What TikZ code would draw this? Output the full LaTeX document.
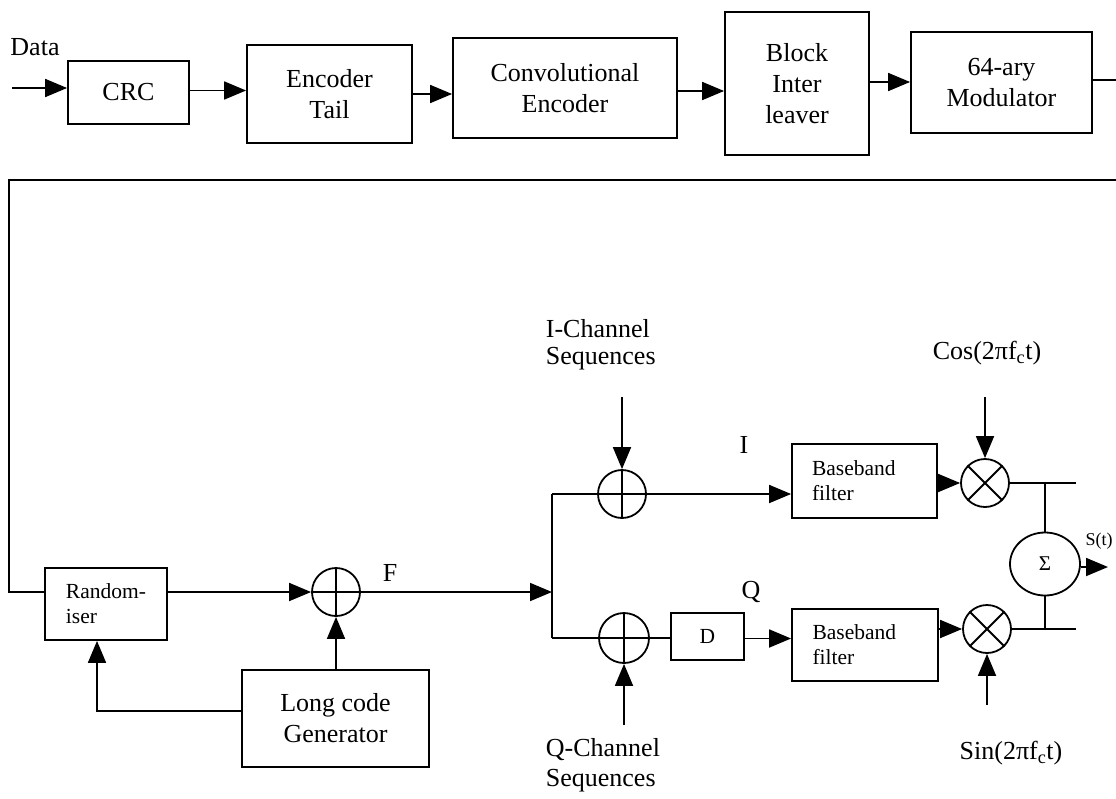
\documentclass[tikz,border=0pt]{standalone}
\usepackage{fontspec}
\setmainfont{Liberation Serif}
\usetikzlibrary{arrows.meta,shapes.geometric}
\begin{document}
\begin{tikzpicture}[x=1pt,y=-1pt,
  line width=1.8pt,
  big/.style={font=\fontsize{26}{31}\selectfont},
  small/.style={font=\fontsize{21.5}{25}\selectfont},
  blk/.style={draw, rectangle, inner sep=0pt, align=center, big},
  sblk/.style={draw, rectangle, inner sep=0pt, align=left, small},
  bbblk/.style={draw, rectangle, inner sep=0pt, align=left, small, text width=105pt},
  xorc/.style={draw, circle, minimum size=48pt, inner sep=0pt},
  arr/.style={-{Triangle[length=22pt,width=18pt]}},
  lbl/.style={inner sep=0pt, big},
]
\useasboundingbox (0,0) rectangle (1116,798);

% ---- top chain ----
\node[blk, minimum width=121pt, minimum height=63pt] (crc) at (128.5,92.5) {CRC};
\node[blk, minimum width=165pt, minimum height=98pt] (et) at (329.5,94) {Encoder\\Tail};
\node[blk, minimum width=224pt, minimum height=100pt] (conv) at (565,88) {Convolutional\\Encoder};
\node[blk, minimum width=144pt, minimum height=143pt] (bil) at (797,83.5) {Block\\Inter\\leaver};
\node[blk, minimum width=181pt, minimum height=101pt] (mod) at (1001.5,82.5) {64-ary\\Modulator};

\node[lbl] (data) at (35,47) {Data};
\coordinate (din) at (12,88);
\coordinate (mout) at (1116,80);
\coordinate (wr) at (1116,180);
\coordinate (wl) at (9,180);

\draw[arr] (din) -- (din -| crc.west);
\draw[arr] ([yshift=2pt]crc.east) -- ([yshift=2pt]crc.east -| et.west);
\draw[arr] (et.east) -- (et.east -| conv.west);
\draw[arr] ([yshift=-3pt]conv.east) -- ([yshift=-3pt]conv.east -| bil.west);
\draw[arr] ([yshift=1.5pt]bil.east) -- ([yshift=1.5pt]bil.east -| mod.west);
\draw (mod.east |- mout) -- (mout);

% ---- lower left ----
\node[sblk, minimum width=122pt, minimum height=72pt] (rand) at (106,604) {Random-\\iser};
\node[xorc] (x1) at (336,592) {};
\node[blk, minimum width=187pt, minimum height=97pt] (lc) at (335.5,718.5) {Long code\\Generator};
\node[lbl] (flab) at (390,573) {F};

\draw (wr) -- (wl) |- (rand.west |- x1);
\draw[arr] (rand.east |- x1) -- (x1.west);
\draw[arr] (x1 |- lc.north) -- (x1.south);
\coordinate (fb) at (97,711);
\draw[arr] (lc.west |- fb) -- (fb) -- (fb |- rand.south);
\draw (x1.north) -- (x1.south) (x1.west) -- (x1.east);

% ---- I / Q split ----
\coordinate (jf) at (552,592);
\coordinate (ji) at (552,494);
\coordinate (jq) at (552,638);
\draw[arr] (x1.east) -- (jf);
\draw (ji) -- (jq);

\node[xorc] (xi) at (622,494) {};
\node[xorc, minimum size=50pt] (xq) at (624,638) {};
\draw (xi.north) -- (xi.south) (xi.west) -- (xi.east);
\draw (xq.north) -- (xq.south) (xq.west) -- (xq.east);

\node[lbl, align=left, anchor=west, font=\fontsize{26}{27}\selectfont] (ich) at (545,345) {I-Channel\\Sequences};
\node[lbl, align=left, anchor=west, font=\fontsize{26}{30}\selectfont] (qch) at (545,765) {Q-Channel\\Sequences};
\coordinate (iin) at (622,397);
\coordinate (qin) at (624,725);
\draw[arr] (iin) -- (xi.north);
\draw[arr] (qin) -- (xq.south);

\draw (ji) -- (xi.west);
\draw (jq) -- (xq.west);

\node[sblk, align=center, minimum width=73pt, minimum height=47pt] (d) at (707.5,636.5) {D};
\draw (xq.east) -- (xq.east -| d.west);

\node[bbblk, minimum width=145pt, minimum height=74pt] (bb1) at (864.5,481) {Baseband\\filter};
\node[bbblk, minimum width=146pt, minimum height=72pt] (bb2) at (865,645) {Baseband\\filter};
\node[lbl] (ilab) at (744,445) {I};
\node[lbl] (qlab) at (751,592) {Q};

\draw[arr] (xi.east) -- (xi.east -| bb1.west);
\draw[arr] ([yshift=-2pt]d.east) -- ([yshift=-2pt]d.east -| bb2.west);

% ---- mixers ----
\node[xorc] (m1) at (985,483) {};
\node[xorc] (m2) at (987,629) {};
\draw (m1.north east) -- (m1.south west) (m1.north west) -- (m1.south east);
\draw (m2.north east) -- (m2.south west) (m2.north west) -- (m2.south east);

\draw[arr] (m1.west -| bb1.east) -- (m1.west);
\draw[arr] (m2.west -| bb2.east) -- (m2.west);

\node[lbl] (coslab) at (987,353) {Cos(2πf\textsubscript{c}t)};
\node[lbl] (sinlab) at (1011,753) {Sin(2πf\textsubscript{c}t)};
\coordinate (cin) at (985,397);
\coordinate (sin) at (987,705);
\draw[arr] (cin) -- (m1.north);
\draw[arr] (sin) -- (m2.south);

% ---- summer ----
\node[draw, ellipse, minimum width=70pt, minimum height=63pt, inner sep=0pt,
      font=\fontsize{21}{24}\selectfont] (sig) at (1045,564) {Σ};
\coordinate (o1) at (1076,483);
\coordinate (o2) at (1076,629);
\draw (m1.east) -- (o1);
\draw (m2.east) -- (o2);
\draw (sig.north |- o1) -- (sig.north);
\draw (sig.south |- o2) -- (sig.south);
\coordinate (sout) at (1108,567);
\draw[arr] (sig.east |- sout) -- (sout);
\node[inner sep=0pt, font=\fontsize{18}{20}\selectfont] (slab) at (1099,541) {S(t)};

\end{tikzpicture}
\end{document}
